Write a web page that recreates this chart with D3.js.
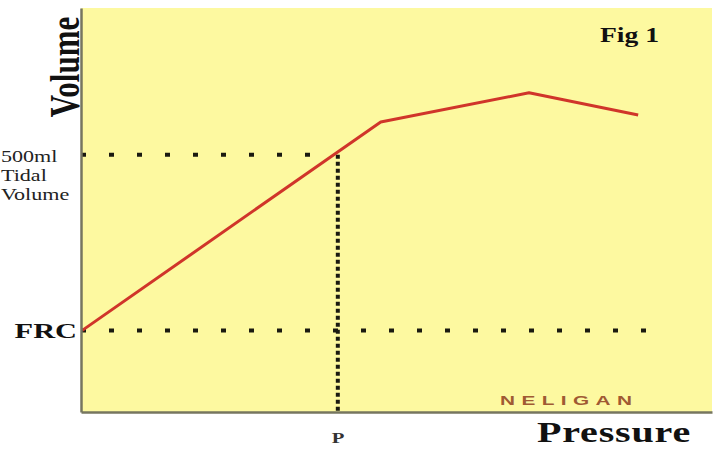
<!DOCTYPE html>
<html><head><meta charset="utf-8">
<script src="https://cdn.jsdelivr.net/npm/d3@7"></script>
<style>html,body{margin:0;padding:0;background:#fff;overflow:hidden}</style>
</head><body><svg id="c" width="720" height="449"></svg>
<script>
// Data (arbitrary units, 0-100)
const pressure = [0.2, 47.5, 71, 88.3];
const volume   = [20.2, 71.8, 79, 73.5];
const frcLevel = 20.2;
const tidalLevel = 63.7;
const pMark = 40.7;
const frcDotsEnd = 90;
const tidalLabel = ["500ml", "Tidal", "Volume"];

const svg = d3.select("#c");
const x = d3.scaleLinear().domain([0, 100]).range([81, 712]);
const y = d3.scaleLinear().domain([0, 100]).range([412, 8]);
const SX = 1.38; // horizontal stretch of text in the picture

// plot background
svg.append("rect").attr("x", x(0)).attr("y", y(100))
  .attr("width", x(100) - x(0)).attr("height", y(0) - y(100))
  .attr("fill", "#fdf9a0");

// dotted reference lines
svg.append("line").attr("x1", x(0)).attr("x2", x(pMark) - 6)
  .attr("y1", y(tidalLevel)).attr("y2", y(tidalLevel))
  .attr("stroke", "#1a1a10").attr("stroke-width", 4).attr("stroke-dasharray", "5,23");
svg.append("line").attr("x1", x(0)).attr("x2", x(frcDotsEnd))
  .attr("y1", y(frcLevel)).attr("y2", y(frcLevel))
  .attr("stroke", "#1a1a10").attr("stroke-width", 4).attr("stroke-dasharray", "5,23");
svg.append("line").attr("x1", x(pMark)).attr("x2", x(pMark))
  .attr("y1", y(tidalLevel)).attr("y2", y(0))
  .attr("stroke", "#1a1a10").attr("stroke-width", 4).attr("stroke-dasharray", "4,3");

// curve
const pts = pressure.map((p, i) => [p, volume[i]]);
svg.append("path").datum(pts)
  .attr("d", d3.line().x(d => x(d[0])).y(d => y(d[1])))
  .attr("fill", "none").attr("stroke", "#d0352a").attr("stroke-width", 3)
  .attr("stroke-linejoin", "round");

// axes
svg.append("g").attr("transform", `translate(0,${y(0)})`)
  .call(d3.axisBottom(x).tickValues([]).tickSizeOuter(0))
  .call(g => g.select(".domain").attr("stroke", "#76765f").attr("stroke-width", 2.5));
svg.append("g").attr("transform", `translate(${x(0)},0)`)
  .call(d3.axisLeft(y).tickValues([]).tickSizeOuter(0))
  .call(g => g.select(".domain").attr("stroke", "#76765f").attr("stroke-width", 2.5));

const serif = "'Liberation Serif','DejaVu Serif',serif";
function txt(str, tx, ty, size, weight, anchor, extra) {
  return svg.append("text")
    .attr("transform", `translate(${tx},${ty}) scale(${SX},1)` + (extra || ""))
    .attr("font-family", serif).attr("font-size", size).attr("font-weight", weight)
    .attr("text-anchor", anchor).attr("fill", "#111").text(str);
}

txt("Volume", x(0) - 2, 67, 31, "bold", "middle", " rotate(-90)");
txt("Pressure", 537, 442, 29, "bold", "start").attr("textLength", 111);
txt("Fig 1", 600, 42, 20, "bold", "start");
txt("FRC", x(0) - 4, y(frcLevel) + 8, 22, "bold", "end");
txt("P", x(pMark) - 6, 443, 15, "bold", "start").attr("fill", "#333");
tidalLabel.forEach((s, i) => {
  txt(s, 1, 162 + i * 19, 16, "normal", "start").attr("fill", "#222");
});

svg.append("text")
  .attr("transform", `translate(500,405) scale(1.6,1)`)
  .attr("font-family", "'Liberation Sans',Arial,sans-serif").attr("font-size", 13)
  .attr("font-weight", "bold").attr("letter-spacing", 4)
  .attr("fill", "#a05a33").text("NELIGAN");
</script></body></html>
